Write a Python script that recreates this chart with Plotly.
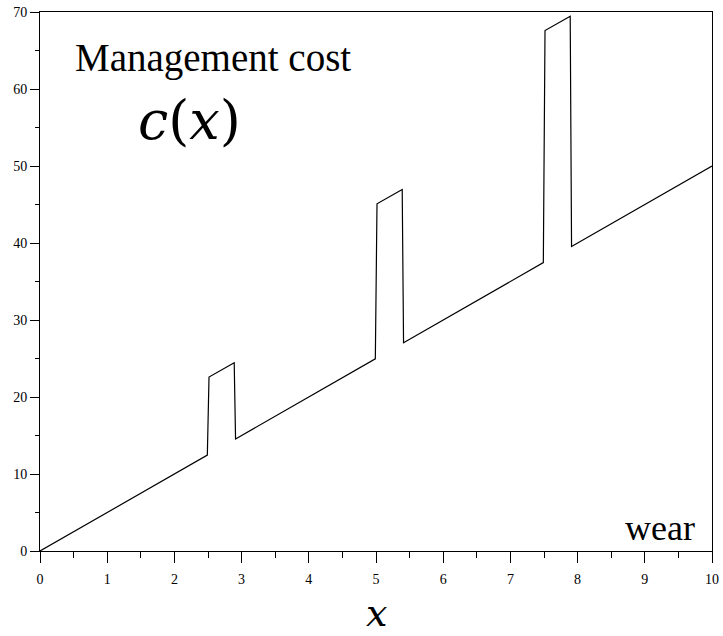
import plotly.graph_objects as go

# Vertices of the piecewise-linear management cost curve c(x)
wear_x = [0, 2.49, 2.515, 2.89, 2.91, 4.99, 5.015, 5.39, 5.41, 7.49, 7.515, 7.89, 7.91, 10]
cost_y = [0, 12.45, 22.6, 24.45, 14.55, 24.95, 45.1, 46.95, 27.05, 37.45, 67.6, 69.45, 39.55, 50]

x_ticks = [0, 1, 2, 3, 4, 5, 6, 7, 8, 9, 10]
y_ticks = [0, 10, 20, 30, 40, 50, 60, 70]

SERIF = "Liberation Serif, Times New Roman, serif"
MATH = "DejaVu Serif, serif"

fig = go.Figure()
fig.add_trace(go.Scatter(
    x=wear_x, y=cost_y, mode="lines",
    line=dict(color="black", width=1.2),
    hoverinfo="skip", showlegend=False,
))

axis_common = dict(
    showgrid=False, zeroline=False, automargin=False,
    showline=True, linecolor="black", linewidth=1, mirror=True,
    ticks="outside", tickcolor="black", tickwidth=1,
    tickfont=dict(family=SERIF, size=14, color="black"),
)

fig.update_xaxes(
    range=[0, 10], tickvals=x_ticks, ticklen=11, ticklabelstandoff=4,
    minor=dict(dtick=0.5, ticks="outside", ticklen=6, tickcolor="black", tickwidth=1),
    **axis_common,
)
fig.update_yaxes(
    range=[0, 70], tickvals=y_ticks, ticklen=9,
    minor=dict(dtick=5, ticks="outside", ticklen=4, tickcolor="black", tickwidth=1),
    **axis_common,
)

fig.add_annotation(text="Management cost", xref="paper", yref="paper",
                   x=0.049, y=0.915, xanchor="left", yanchor="middle", showarrow=False,
                   font=dict(family=SERIF, size=39, color="black"))
fig.add_annotation(text="<i>c</i>(<i>x</i>)", xref="paper", yref="paper",
                   x=0.222, y=0.798, xanchor="center", yanchor="middle", showarrow=False,
                   font=dict(family=MATH, size=54, color="black"))
fig.add_annotation(text="wear", xref="paper", yref="paper",
                   x=0.978, y=0.043, xanchor="right", yanchor="middle", showarrow=False,
                   font=dict(family=SERIF, size=36, color="black"))
fig.add_annotation(text="<i>x</i>", xref="paper", yref="paper",
                   x=0.5, y=-0.1577, xanchor="center", yanchor="bottom", showarrow=False,
                   borderpad=0, font=dict(family=MATH, size=38, color="black"))

fig.update_layout(
    width=723, height=636,
    margin=dict(l=40, r=11, t=12, b=85, autoexpand=False),
    paper_bgcolor="white", plot_bgcolor="white",
)

fig.write_html("out.html")
